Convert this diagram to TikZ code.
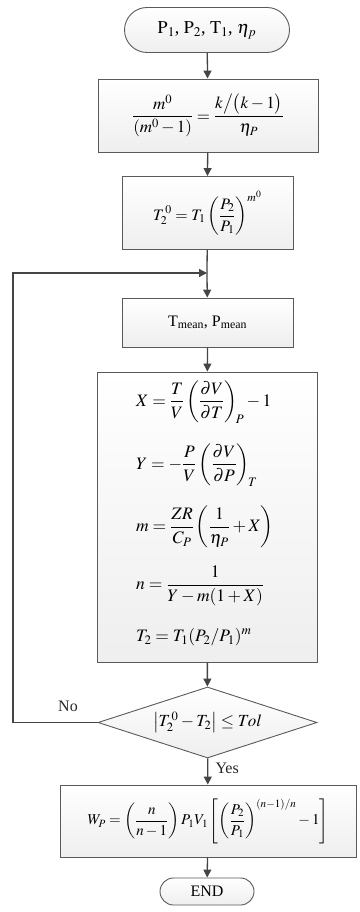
\documentclass[tikz,border=0pt]{standalone}
\usepackage{mathptmx}
\usepackage{fontspec}
\setmainfont{Liberation Serif}
\usetikzlibrary{shapes.misc,shapes.geometric,arrows.meta}
\definecolor{edge}{HTML}{5A5A5A}
\definecolor{arr}{HTML}{454545}
\tikzset{
  boxbase/.style={draw=edge, line width=0.9pt, top color=white, bottom color=gray!13, inner sep=2pt, font=\fontsize{15}{18}\selectfont},
  procbox/.style={boxbase, rectangle},
  termbox/.style={boxbase, rounded rectangle},
  decbox/.style={boxbase, diamond, aspect=3.08, inner sep=0pt},
  eqline/.style={anchor=west, inner sep=0pt, font=\fontsize{17.5}{20}\selectfont},
  flow/.style={draw=arr, line width=1.3pt, -{Triangle[length=8pt,width=8pt]}},
  lbl/.style={font=\fontsize{16}{18}\selectfont, text=black!85}
}
\begin{document}
\begin{tikzpicture}[x=1pt,y=-1pt]
\useasboundingbox (0,0) rectangle (359,912);
\node[termbox, minimum width=169pt, minimum height=45pt, font=\fontsize{18}{20}\selectfont] (start) at (207,30) {$\mathrm{P}_1$, $\mathrm{P}_2$, $\mathrm{T}_1$, $\eta_p$};
\node[procbox, minimum width=220pt, minimum height=73pt, font=\fontsize{17}{20}\selectfont] (b2) at (208,115.5) {$\displaystyle\frac{m^0}{\left(m^0-1\right)}=\frac{k\big/\big(k-1\big)}{\eta_P}$};
\node[procbox, minimum width=171pt, minimum height=73pt, font=\fontsize{16}{18}\selectfont] (b3) at (207.5,213) {$\displaystyle T_2^{\,0}=T_1\left(\frac{P_2}{P_1}\right)^{m^0}$};
\coordinate (merge) at (207,273);
\node[procbox, minimum width=171pt, minimum height=49pt, font=\fontsize{16}{18}\selectfont] (b4) at (207.5,322.5) {T\textsubscript{mean}, P\textsubscript{mean}};
\node[procbox, minimum width=220pt, minimum height=290pt] (b5) at (207,517) {};
\node[eqline] (eqX) at (136,402) {$\displaystyle X=\frac{T}{V}\left(\frac{\partial V}{\partial T}\right)_{\!P}-1$};
\node[eqline] (eqY) at (136,465) {$\displaystyle Y=-\frac{P}{V}\left(\frac{\partial V}{\partial P}\right)_{\!T}$};
\node[eqline] (eqm) at (136,527) {$\displaystyle m=\frac{ZR}{C_P}\left(\frac{1}{\eta_P}+X\right)$};
\node[eqline] (eqn) at (136,586) {$\displaystyle n=\frac{1}{Y-m(1+X)}$};
\node[eqline] (eqT) at (136,637) {$\displaystyle T_2=T_1(P_2/P_1)^m$};
\node[decbox, minimum width=219pt, minimum height=71pt, font=\fontsize{17}{20}\selectfont] (dec) at (207.5,722.5) {$\left|T_2^{\,0}-T_2\right|\le Tol$};
\coordinate (lc1) at (13,722.5);
\coordinate (lc2) at (13,273);
\node[procbox, minimum width=296pt, minimum height=72pt] (b6) at (208,821) {$\displaystyle W_P=\left(\frac{n}{n-1}\right)P_1V_1\left[\left(\frac{P_2}{P_1}\right)^{(n-1)/n}-1\right]$};
\node[termbox, minimum width=96pt, minimum height=27pt, inner sep=1pt, font=\fontsize{16}{18}\selectfont] (end) at (207,891.5) {END};
\draw[flow] (start) -- (b2);
\draw[flow] (b2) -- (b3.north);
\draw[draw=arr, line width=1.3pt] (b3) -- (merge);
\draw[flow] (merge) -- (b4);
\draw[flow] (b4) -- (b5);
\draw[flow] (b5) -- (dec);
\draw[flow] (dec.west) -- (lc1) -- (lc2) -- (merge);
\draw[flow] (dec) -- (b6);
\draw[flow] (b6) -- (end);
\node[lbl] (no) at (68,706) {No};
\node[lbl, anchor=west] (yes) at (212,768) {Yes};
\end{tikzpicture}
\end{document}
